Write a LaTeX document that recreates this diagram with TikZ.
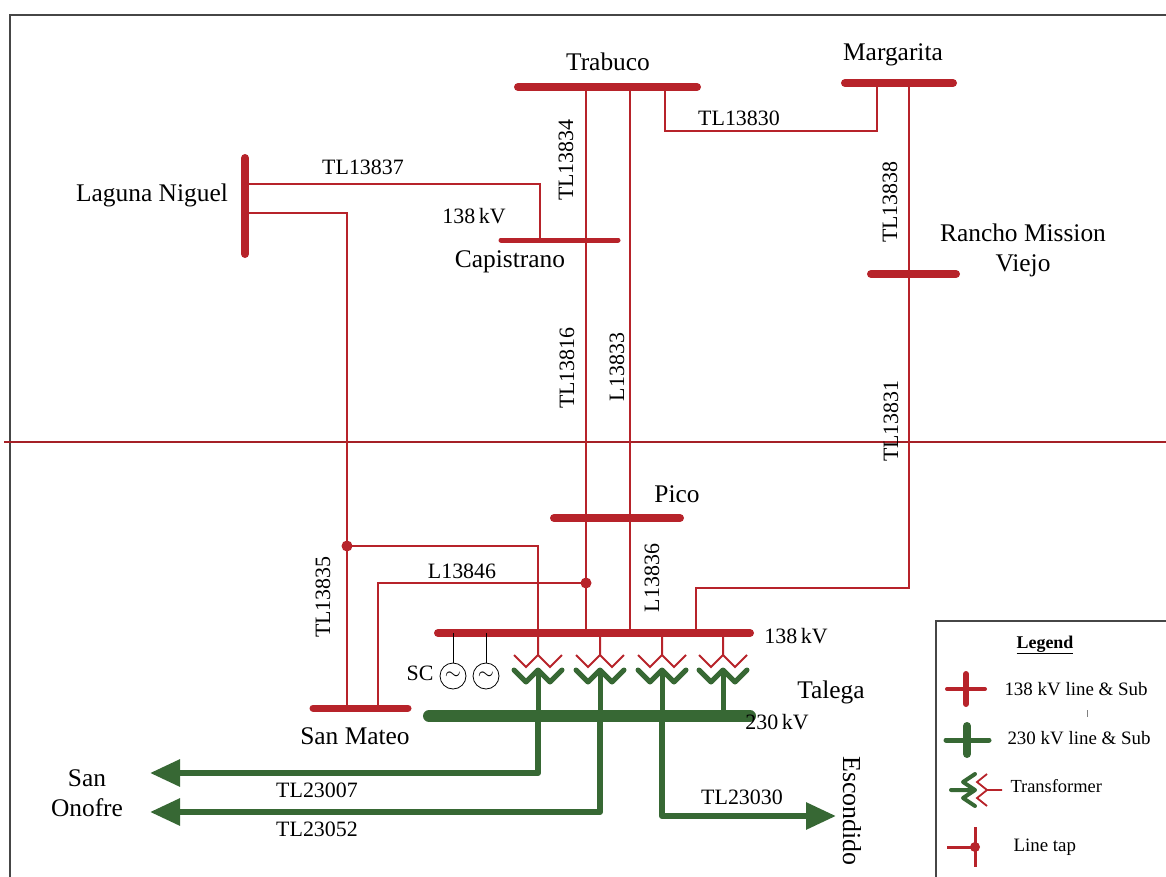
\documentclass[tikz,border=0pt]{standalone}
\usepackage{fontspec}
\setmainfont{Liberation Serif}
\usetikzlibrary{arrows.meta}
\definecolor{netzrot}{RGB}{183,35,42}
\definecolor{netzgruen}{RGB}{55,104,52}
\definecolor{rahmen}{RGB}{70,70,70}

\begin{document}
\begin{tikzpicture}[%show background rectangle,
    x=1bp, y=-1bp,
    font=\fontsize{22}{24}\selectfont,
    >=latex, % Voreinstellung fuer Pfeilspitzen
    sammel/.style={draw=netzrot, line width=8bp, line cap=round},
    leitung/.style={draw=netzrot, line width=2.5bp},
    sammelhv/.style={draw=netzgruen, line width=12bp, line cap=round},
    leitunghv/.style={draw=netzgruen, line width=6bp, line join=round,
        -{Triangle[length=30bp,width=26bp]}},
    abzweig/.style={circle, fill=netzrot, inner sep=0pt, minimum size=11bp},
    station/.style={font=\fontsize{25.5}{30}\selectfont, align=center},
    generator/.style={circle, draw, thick, minimum size=26bp, inner sep=0pt,
        font=\fontsize{20}{20}\selectfont},
    legtext/.style={anchor=west, font=\fontsize{19}{22}\selectfont}
    ]
        \useasboundingbox (0,0) rectangle (1166,877);

        % Rahmen
        \draw [rahmen, line width=2bp]  (10,15) rectangle (1180,890);
        \draw [netzrot!90!black, line width=2bp] (4,442) -- (1166,442);

        % Anschlusspunkte
        \coordinate (tra-l) at (518,87);   \coordinate (tra-r) at (697,87);
        \coordinate (mar-l) at (845,83);   \coordinate (mar-r) at (953,83);
        \coordinate (lag-o) at (245,158);  \coordinate (lag-u) at (245,254);
        \coordinate (cap-l) at (501,240);  \coordinate (cap-r) at (618,240);
        \coordinate (ran-l) at (871,274);  \coordinate (ran-r) at (956,274);
        \coordinate (pic-l) at (554,518);  \coordinate (pic-r) at (680,518);
        \coordinate (tal-l) at (438,633);  \coordinate (tal-r) at (750,633);
        \coordinate (mat-l) at (313,708);  \coordinate (mat-r) at (408,708);
        \coordinate (hv-l)  at (429,716);  \coordinate (hv-r)  at (750,716);

        \coordinate (lag-a) at (245,184);  \coordinate (lag-b) at (245,213);
        \coordinate (cap-a) at (540,240);
        \coordinate (mat-a) at (347,708);  \coordinate (mat-b) at (378,708);
        \coordinate (tra-a) at (586,87);   \coordinate (tra-b) at (630,87);
        \coordinate (tra-c) at (665,87);   \coordinate (mar-a) at (877,83);
        \coordinate (mar-b) at (909,83);
        \coordinate (tal-a) at (538,633);  \coordinate (tal-b) at (586,633);
        \coordinate (tal-c) at (630,633);  \coordinate (tal-d) at (696,633);
        \coordinate (hv-a)  at (538,716);  \coordinate (hv-b)  at (600,716);
        \coordinate (hv-c)  at (662,716);
        \coordinate (ono-a) at (150,773);  \coordinate (ono-b) at (150,812);
        \coordinate (esc)   at (836,816);

        % Abzweige
        \node [abzweig] (t1) at (347,546) {};
        \node [abzweig] (t2) at (586,583) {};

        % Leitungen 138 kV
        \draw [leitung] (lag-a) -| (cap-a);
        \draw [leitung] (lag-b) -| (mat-a);
        \draw [leitung] (t1.center) -| (tal-a);
        \draw [leitung] (mat-b) |- (t2.center);
        \draw [leitung] (tra-a) -- (tal-b);
        \draw [leitung] (tra-b) -- (tal-c);
        \draw [leitung] (tra-c) -- ++(0,44) -| (mar-a);
        \draw [leitung] (mar-b) -- ++(0,505) -| (tal-d);

        % Sammelschienen
        \draw [sammel]  (tra-l) -- (tra-r);
        \draw [sammel]  (mar-l) -- (mar-r);
        \draw [sammel]  (lag-o) -- (lag-u);
        \draw [sammel, line width=5bp] (cap-l) -- (cap-r);
        \draw [sammel]  (ran-l) -- (ran-r);
        \draw [sammel]  (pic-l) -- (pic-r);
        \draw [sammel]  (tal-l) -- (tal-r);
        \draw [sammel, line width=7bp] (mat-l) -- (mat-r);
        \draw [sammelhv] (hv-l) -- (hv-r);

        % Transformatoren
        \foreach \tx in {538,600,662,723} {
            \draw [netzrot, line width=2bp]
                (\tx,633) -- (\tx,655)
                (\tx-24,655) -- (\tx-12,667) -- (\tx,655) -- (\tx+12,667) -- (\tx+24,655);
            \draw [netzgruen, line width=5bp, line cap=round, line join=round]
                (\tx-24,670) -- (\tx-12,682) -- (\tx,670) -- (\tx+12,682) -- (\tx+24,670);
            \draw [netzgruen, line width=5bp] (\tx,670) -- (\tx,716);
        }

        % Leitungen 230 kV
        \draw [leitunghv] (hv-a) |- (ono-a);
        \draw [leitunghv] (hv-b) |- (ono-b);
        \draw [leitunghv] (hv-c) |- (esc);

        % Blindleistungskompensation
        \node [generator] (sc1) at (453,676) {$\sim$};
        \node [generator] (sc2) at (486,676) {$\sim$};
        \draw [thick] (sc1.north) -- (sc1.north |- tal-l)
                      (sc2.north) -- (sc2.north |- tal-l);

        % Stationen
        \node [station] (trabuco)   at (608,62)  {Trabuco};
        \node [station] (margarita) at (893,55)  {Margarita};
        \node [station] (laguna)    at (152,195) {Laguna Niguel};
        \node [station] (capo)      at (510,262) {Capistrano};
        \node [station] (rancho)    at (1023,250) {Rancho Mission\\Viejo};
        \node [station] (pico)      at (677,494) {Pico};
        \node [station] (talega)    at (831,692) {Talega};
        \node [station] (mateo)     at (355,736) {San Mateo};
        \node [station] (onofre)    at (87,793)  {San\\Onofre};
        \node [station, rotate=-90, font=\fontsize{26}{28}\selectfont] (escondido) at (852,811) {Escondido};

        % Beschriftung
        \node (tl37) at (363,167) {TL13837};
        \node (kv-cap) at (474,216) {138\,kV};
        \node (tl30) at (739,118) {TL13830};
        \node [rotate=90] (tl34) at (566,160) {TL13834};
        \node [rotate=90] (tl38) at (890,202) {TL13838};
        \node [rotate=90] (tl16) at (567,368) {TL13816};
        \node [rotate=90] (l33)  at (617,367) {L13833};
        \node [rotate=90] (tl31) at (891,421) {TL13831};
        \node [rotate=90] (tl35) at (323,597) {TL13835};
        \node [rotate=90] (l36)  at (652,578) {L13836};
        \node (l46)  at (462,571) {L13846};
        \node (kv-tal) at (796,636) {138\,kV};
        \node (kv-hv)  at (777,722) {230\,kV};
        \node (sc)   at (420,673) {SC};
        \node (tl07) at (317,790) {TL23007};
        \node (tl52) at (317,829) {TL23052};
        \node (tl3030) at (742,797) {TL23030};

        % Legende
        \draw [rahmen, line width=1.5bp] (936,621) rectangle (1180,890);
        \node [font=\bfseries\fontsize{18}{20}\selectfont] (legende) at (1045,645) {\underline{Legend}};

        \draw [netzrot, line width=4bp, line cap=round] (947,689) -- (985,689);
        \draw [netzrot, line width=6bp, line cap=round] (966,674) -- (966,704);
        \node [legtext] (leg-a) at (1001,689) {138 kV line \& Sub};
        \draw [gray, line width=0.8bp] (1087,710) -- (1087,717);

        \draw [netzgruen, line width=5bp, line cap=round] (946,740) -- (989,740);
        \draw [netzgruen, line width=8bp, line cap=round] (967,726) -- (967,754);
        \node [legtext] (leg-b) at (1004,738) {230 kV line \& Sub};

        \draw [netzgruen, line width=4bp, line cap=round, line join=round]
            (951,790) -- (975,790)
            (975,774) -- (963,782) -- (975,790) -- (963,798) -- (975,806);
        \draw [netzrot, line width=1.8bp]
            (987,790) -- (1002,790)
            (987,774) -- (977,782) -- (987,790) -- (977,798) -- (987,806);
        \node [legtext, font=\fontsize{18.5}{20}\selectfont] (leg-c) at (1007,786) {Transformer};

        \draw [netzrot, line width=3bp] (947,847) -- (975,847)
                                        (975,827) -- (975,867);
        \node [abzweig, minimum size=10bp] (leg-tap) at (975,847) {};
        \node [legtext, font=\fontsize{19}{20}\selectfont] (leg-d) at (1010,847) {Line tap};
    \end{tikzpicture}
\end{document}
